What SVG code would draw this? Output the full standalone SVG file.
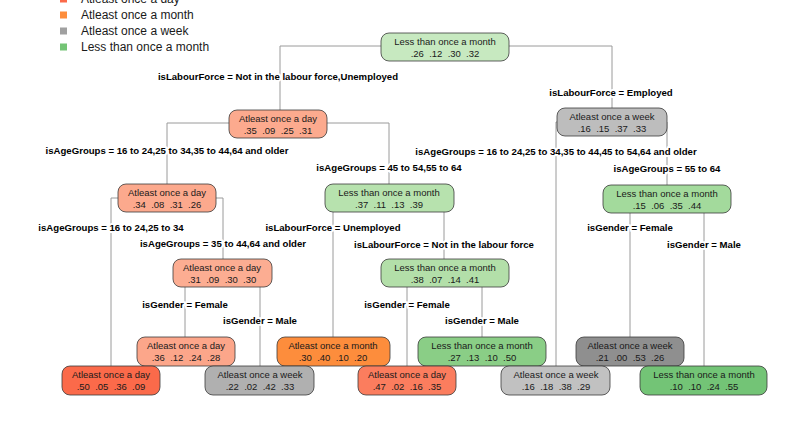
<svg xmlns="http://www.w3.org/2000/svg" width="800" height="427" viewBox="0 0 800 427">
<style>
.bg{fill:#ffffff}
.ln{stroke:#9a9a9a;stroke-width:1;fill:none}
.nd rect{stroke:#3a3a3a;stroke-width:0.8}
.nd text{font-family:"Liberation Sans",Arial,sans-serif;font-size:9.5px;fill:#1a1a1a;text-anchor:middle;white-space:pre}
.lb{font-family:"Liberation Sans",Arial,sans-serif;font-size:9.6px;font-weight:bold;fill:#000;text-anchor:middle;stroke:#fff;stroke-width:4;paint-order:stroke;stroke-linejoin:round}
.lg{font-family:"Liberation Sans",Arial,sans-serif;font-size:12px;fill:#1a1a1a}
</style>
<rect class="bg" x="0" y="0" width="800" height="427"/>
<g id="legend">
<rect x="60" y="-4.5" width="7" height="7" fill="#FB6A4A"/>
<text class="lg" x="81" y="3">Atleast once a day</text>
<rect x="60" y="11.5" width="7" height="7" fill="#FD8D3C"/>
<text class="lg" x="81" y="19">Atleast once a month</text>
<rect x="60" y="27.5" width="7" height="7" fill="#A0A0A0"/>
<text class="lg" x="81" y="35">Atleast once a week</text>
<rect x="60" y="43.5" width="7" height="7" fill="#74C476"/>
<text class="lg" x="81" y="51">Less than once a month</text>
</g>
<g id="connectors">
<path class="ln" d="M280,110 V46 H612 V108"/>
<path class="ln" d="M167,184 V123 H389 V184"/>
<path class="ln" d="M556,366 V122 H667 V185"/>
<path class="ln" d="M111,366 V198 H223 V259"/>
<path class="ln" d="M333,337 V198 H444 V259"/>
<path class="ln" d="M630,337 V199 H704 V366"/>
<path class="ln" d="M185,337 V273 H260 V366"/>
<path class="ln" d="M407,366 V273 H482 V337"/>
</g>
<g id="labels">
<text class="lb" x="278" y="80">isLabourForce = Not in the labour force,Unemployed</text>
<text class="lb" x="611" y="96">isLabourForce = Employed</text>
<text class="lb" x="167" y="154">isAgeGroups = 16 to 24,25 to 34,35 to 44,64 and older</text>
<text class="lb" x="389" y="171">isAgeGroups = 45 to 54,55 to 64</text>
<text class="lb" x="556" y="155">isAgeGroups = 16 to 24,25 to 34,35 to 44,45 to 54,64 and older</text>
<text class="lb" x="667" y="172">isAgeGroups = 55 to 64</text>
<text class="lb" x="111" y="231">isAgeGroups = 16 to 24,25 to 34</text>
<text class="lb" x="223" y="247">isAgeGroups = 35 to 44,64 and older</text>
<text class="lb" x="333" y="231">isLabourForce = Unemployed</text>
<text class="lb" x="444" y="248">isLabourForce = Not in the labour force</text>
<text class="lb" x="185" y="308">isGender = Female</text>
<text class="lb" x="260" y="324">isGender = Male</text>
<text class="lb" x="407" y="308">isGender = Female</text>
<text class="lb" x="482" y="324">isGender = Male</text>
<text class="lb" x="630" y="231">isGender = Female</text>
<text class="lb" x="704" y="248">isGender = Male</text>
</g>
<g id="n1" class="nd"><rect x="381" y="33" width="128" height="28" rx="8" fill="#C7E9C0"/><text x="445" y="45">Less than once a month</text><text x="445" y="57">.26  .12  .30  .32</text></g>
<g id="n2" class="nd"><rect x="229" y="110" width="98" height="28" rx="8" fill="#FCAA8E"/><text x="278" y="122">Atleast once a day</text><text x="278" y="134">.35  .09  .25  .31</text></g>
<g id="n3" class="nd"><rect x="557" y="108" width="110" height="28" rx="8" fill="#BDBDBD"/><text x="612" y="120">Atleast once a week</text><text x="612" y="132">.16  .15  .37  .33</text></g>
<g id="n4" class="nd"><rect x="118" y="184" width="98" height="28" rx="8" fill="#FCA98D"/><text x="167" y="196">Atleast once a day</text><text x="167" y="208">.34  .08  .31  .26</text></g>
<g id="n5" class="nd"><rect x="325" y="184" width="129" height="28" rx="8" fill="#B7E2AE"/><text x="389" y="196">Less than once a month</text><text x="389" y="208">.37  .11  .13  .39</text></g>
<g id="n6" class="nd"><rect x="603" y="185" width="128" height="28" rx="8" fill="#A3DA9C"/><text x="667" y="197">Less than once a month</text><text x="667" y="209">.15  .06  .35  .44</text></g>
<g id="n7" class="nd"><rect x="173" y="259" width="99" height="28" rx="8" fill="#FCAD92"/><text x="222" y="271">Atleast once a day</text><text x="222" y="283">.31  .09  .30  .30</text></g>
<g id="n8" class="nd"><rect x="381" y="259" width="128" height="28" rx="8" fill="#B3DFA9"/><text x="445" y="271">Less than once a month</text><text x="445" y="283">.38  .07  .14  .41</text></g>
<g id="l2" class="nd"><rect x="137" y="337" width="98" height="29" rx="8" fill="#FCA68A"/><text x="186" y="349">Atleast once a day</text><text x="186" y="361">.36  .12  .24  .28</text></g>
<g id="l4" class="nd"><rect x="277" y="337" width="113" height="29" rx="8" fill="#FD8D3C"/><text x="333" y="349">Atleast once a month</text><text x="333" y="361">.30  .40  .10  .20</text></g>
<g id="l6" class="nd"><rect x="418" y="337" width="128" height="29" rx="8" fill="#8ACE86"/><text x="482" y="349">Less than once a month</text><text x="482" y="361">.27  .13  .10  .50</text></g>
<g id="l8" class="nd"><rect x="576" y="337" width="108" height="29" rx="8" fill="#8F8F8F"/><text x="630" y="349">Atleast once a week</text><text x="630" y="361">.21  .00  .53  .26</text></g>
<g id="l1" class="nd"><rect x="62" y="366" width="98" height="29" rx="8" fill="#FB6A4A"/><text x="111" y="378">Atleast once a day</text><text x="111" y="390">.50  .05  .36  .09</text></g>
<g id="l3" class="nd"><rect x="205" y="366" width="109" height="29" rx="8" fill="#B0B0B0"/><text x="260" y="378">Atleast once a week</text><text x="260" y="390">.22  .02  .42  .33</text></g>
<g id="l5" class="nd"><rect x="358" y="366" width="98" height="29" rx="8" fill="#FB7D5E"/><text x="407" y="378">Atleast once a day</text><text x="407" y="390">.47  .02  .16  .35</text></g>
<g id="l7" class="nd"><rect x="501" y="366" width="109" height="29" rx="8" fill="#C1C1C1"/><text x="556" y="378">Atleast once a week</text><text x="556" y="390">.16  .18  .38  .29</text></g>
<g id="l9" class="nd"><rect x="640" y="366" width="127" height="29" rx="8" fill="#73C476"/><text x="704" y="378">Less than once a month</text><text x="704" y="390">.10  .10  .24  .55</text></g>
</svg>
